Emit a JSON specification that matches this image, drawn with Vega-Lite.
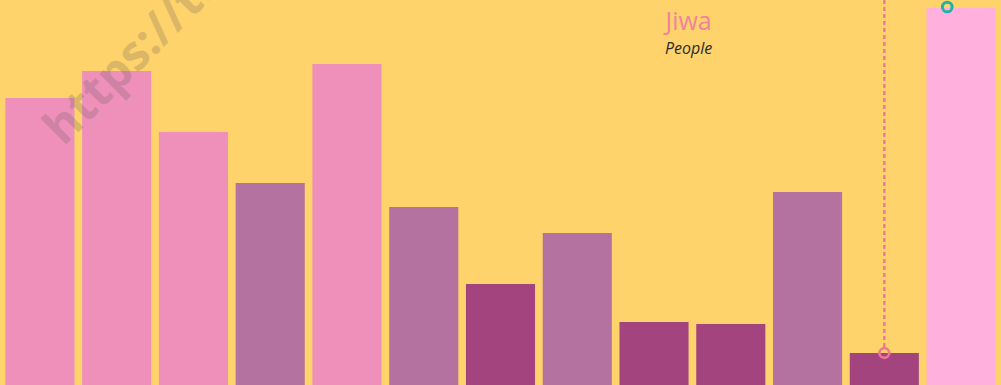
{
  "$schema": "https://vega.github.io/schema/vega-lite/v6.json",
  "width": 1001,
  "height": 385,
  "autosize": {"type": "none"},
  "padding": 0,
  "background": "#FED36B",
  "config": {"view": {"stroke": null, "fill": "#FED36B"}, "font": "Open Sans"},
  "datasets": {
    "bars": [
      {"cat": "1", "value": 287, "group": "a"},
      {"cat": "2", "value": 314, "group": "a"},
      {"cat": "3", "value": 253, "group": "a"},
      {"cat": "4", "value": 202, "group": "b"},
      {"cat": "5", "value": 321, "group": "a"},
      {"cat": "6", "value": 178, "group": "b"},
      {"cat": "7", "value": 101, "group": "c"},
      {"cat": "8", "value": 152, "group": "b"},
      {"cat": "9", "value": 63, "group": "c"},
      {"cat": "10", "value": 61, "group": "c"},
      {"cat": "11", "value": 193, "group": "b"},
      {"cat": "12", "value": 32, "group": "c"},
      {"cat": "13", "value": 377, "group": "d"}
    ],
    "marker_pink": [{"cat": "12", "value": 32}],
    "marker_teal": [{"cat": "13", "value": 378}],
    "rule": [{"cat": "12", "top": 385, "bottom": 38}],
    "titles": [
      {"cat": "9", "value": 363, "label": "Jiwa"}
    ],
    "subtitles": [
      {"cat": "9", "value": 336, "label": "People"}
    ],
    "wm": [{"cat": "1", "value": 238, "label": "https://tableau.com"}]
  },
  "encoding": {
    "x": {
      "field": "cat",
      "type": "nominal",
      "sort": null,
      "axis": null,
      "scale": {"domain": ["1","2","3","4","5","6","7","8","9","10","11","12","13"], "paddingInner": 0.1, "paddingOuter": 0.07}
    }
  },
  "layer": [
    {
      "data": {"name": "bars"},
      "mark": {"type": "bar"},
      "encoding": {
        "y": {"field": "value", "type": "quantitative", "axis": null, "scale": {"domain": [0, 385], "nice": false, "zero": true}},
        "color": {
          "field": "group",
          "type": "nominal",
          "legend": null,
          "scale": {"domain": ["a", "b", "c", "d"], "range": ["#EF90BB", "#B372A0", "#A4447F", "#FFB0DD"]}
        }
      }
    },
    {
      "data": {"name": "wm"},
      "mark": {"type": "text", "clip": true, "angle": -45, "align": "left", "baseline": "alphabetic", "fontSize": 48, "fontWeight": "bold", "font": "Open Sans", "color": "#6e5e5e", "opacity": 0.24},
      "encoding": {
        "x": {"field": "cat", "type": "nominal", "bandPosition": 0.84},
        "y": {"field": "value", "type": "quantitative"},
        "text": {"field": "label"}
      }
    },
    {
      "data": {"name": "rule"},
      "mark": {"type": "rule", "color": "#F0779A", "strokeWidth": 2.4, "strokeDash": [4, 3]},
      "encoding": {
        "x": {"field": "cat", "type": "nominal", "bandPosition": 0.5},
        "y": {"field": "top", "type": "quantitative"},
        "y2": {"field": "bottom"}
      }
    },
    {
      "data": {"name": "marker_pink"},
      "mark": {"type": "point", "shape": "circle", "filled": false, "color": "#F0779A", "strokeWidth": 2.6, "size": 95, "opacity": 1},
      "encoding": {
        "x": {"field": "cat", "type": "nominal", "bandPosition": 0.5},
        "y": {"field": "value", "type": "quantitative"}
      }
    },
    {
      "data": {"name": "marker_teal"},
      "mark": {"type": "point", "shape": "circle", "filled": false, "color": "#1FB3A8", "strokeWidth": 3, "size": 95, "opacity": 1},
      "encoding": {
        "x": {"field": "cat", "type": "nominal", "bandPosition": 0.3},
        "y": {"field": "value", "type": "quantitative"}
      }
    },
    {
      "data": {"name": "titles"},
      "mark": {"type": "text", "align": "center", "baseline": "middle", "fontSize": 25, "font": "Open Sans", "color": "#F0849C"},
      "encoding": {
        "x": {"field": "cat", "type": "nominal", "bandPosition": 1},
        "y": {"field": "value", "type": "quantitative"},
        "text": {"field": "label"}
      }
    },
    {
      "data": {"name": "subtitles"},
      "mark": {"type": "text", "align": "center", "baseline": "middle", "fontSize": 16, "fontStyle": "italic", "font": "Open Sans", "color": "#2b2b2b"},
      "encoding": {
        "x": {"field": "cat", "type": "nominal", "bandPosition": 1},
        "y": {"field": "value", "type": "quantitative"},
        "text": {"field": "label"}
      }
    }
  ]
}
